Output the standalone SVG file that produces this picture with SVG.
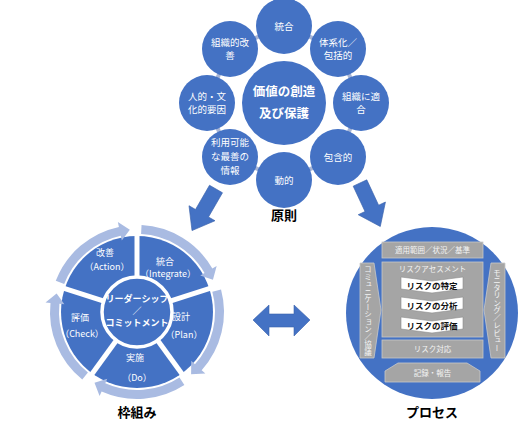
<svg xmlns="http://www.w3.org/2000/svg" xmlns:xlink="http://www.w3.org/1999/xlink" width="520" height="429" viewBox="0 0 520 429">
<style>
text { font-family: "Noto Sans CJK JP", "Noto Sans", sans-serif; }
.c { fill: #4472c4; }
.ct { fill: #ffffff; font-size: 9.5px; text-anchor: middle; }
.cb { fill: #ffffff; font-size: 12.5px; font-weight: bold; text-anchor: middle; }
.lbl { fill: #000000; font-size: 13px; font-weight: bold; text-anchor: middle; }
.seg { fill: #ffffff; font-size: 9px; text-anchor: middle; }
.box { fill: #a5a5a5; stroke: #c9c9c9; stroke-width: 0.8; }
.bt { fill: #f4f4f4; font-size: 7.5px; text-anchor: middle; }
.chev { fill: #ffffff; stroke: #8c8c8c; stroke-width: 0.6; }
.cht { fill: #111111; font-size: 8.5px; font-weight: bold; text-anchor: middle; }
.band { fill: #a9bbe2; }
.spoke { stroke: #ffffff; stroke-width: 5; }
.tick { fill: #a7b5d6; }
.arrow { fill: #4472c4; stroke: #3a63ad; stroke-width: 0.6; }
</style>
<defs>
<path id="arcArrow" d="M 4.55 -86.88 A 87 87 0 0 1 75.34 -43.5 L 79.67 -46 L 75.94 -32.23 L 63.22 -36.5 L 67.55 -39 A 78 78 0 0 0 4.08 -77.89 Z"/>
<line id="spokeLine" x1="0" y1="-34" x2="0" y2="-93"/>
<rect id="tick" x="-2.5" y="-73" width="5" height="4"/>
<polygon id="blockArrow" points="0,-7.5 28,-7.5 28,-15 48,0 28,15 28,7.5 0,7.5"/>
</defs>

<g id="connectors">
  <g class="tick" transform="translate(284,103)">
    <use href="#tick" transform="rotate(22.5)"/>
    <use href="#tick" transform="rotate(67.5)"/>
    <use href="#tick" transform="rotate(112.5)"/>
    <use href="#tick" transform="rotate(157.5)"/>
    <use href="#tick" transform="rotate(202.5)"/>
    <use href="#tick" transform="rotate(247.5)"/>
    <use href="#tick" transform="rotate(292.5)"/>
    <use href="#tick" transform="rotate(337.5)"/>
  </g>
  <use id="arrow-left" class="arrow" href="#blockArrow" transform="translate(216,189) rotate(120)"/>
  <use id="arrow-right" class="arrow" href="#blockArrow" transform="translate(360,183) rotate(65)"/>
  <polygon id="arrow-both" class="arrow" points="253,320 269,305 269,314 294,314 294,305 310,320 294,336 294,327 269,327 269,336"/>
</g>

<!-- Principles cluster -->
<g id="principles">
  <g id="p-center"><circle class="c" cx="284" cy="103" r="42"/>
    <text class="cb" x="284" y="96">価値の創造</text><text class="cb" x="284" y="118">及び保護</text></g>
  <g id="p-integrate"><circle class="c" cx="284" cy="26" r="28"/><text class="ct" x="284" y="30">統合</text></g>
  <g id="p-structured"><circle class="c" cx="338" cy="49" r="28"/><text class="ct" x="338" y="46">体系化／</text><text class="ct" x="338" y="59">包括的</text></g>
  <g id="p-customized"><circle class="c" cx="361" cy="103" r="28"/><text class="ct" x="361" y="100">組織に適</text><text class="ct" x="361" y="113">合</text></g>
  <g id="p-inclusive"><circle class="c" cx="338" cy="157" r="28"/><text class="ct" x="338" y="161">包含的</text></g>
  <g id="p-dynamic"><circle class="c" cx="284" cy="180" r="28"/><text class="ct" x="284" y="184">動的</text></g>
  <g id="p-information"><circle class="c" cx="230" cy="157" r="28"/><text class="ct" x="230" y="146">利用可能</text><text class="ct" x="230" y="160">な最善の</text><text class="ct" x="230" y="174">情報</text></g>
  <g id="p-human"><circle class="c" cx="207" cy="103" r="28"/><text class="ct" x="207" y="100">人的・文</text><text class="ct" x="207" y="113">化的要因</text></g>
  <g id="p-improvement"><circle class="c" cx="230" cy="49" r="28"/><text class="ct" x="230" y="46">組織的改</text><text class="ct" x="230" y="59">善</text></g>
  <text id="label-principles" class="lbl" x="284" y="220">原則</text>
</g>

<!-- Framework cycle -->
<g id="framework">
  <circle class="c" cx="137" cy="312" r="76"/>
  <g class="band" transform="translate(137,312)">
    <use href="#arcArrow"/>
    <use href="#arcArrow" transform="rotate(72)"/>
    <use href="#arcArrow" transform="rotate(144)"/>
    <use href="#arcArrow" transform="rotate(216)"/>
    <use href="#arcArrow" transform="rotate(288)"/>
  </g>
  <g class="spoke" transform="translate(137,312)">
    <use href="#spokeLine"/>
    <use href="#spokeLine" transform="rotate(72)"/>
    <use href="#spokeLine" transform="rotate(144)"/>
    <use href="#spokeLine" transform="rotate(216)"/>
    <use href="#spokeLine" transform="rotate(288)"/>
  </g>
  <g id="f-center"><circle class="c" cx="137" cy="312" r="35" stroke="#ffffff" stroke-width="3.5"/>
    <text class="seg" x="137" y="302" font-weight="bold" font-size="9.5">リーダーシップ</text>
    <text class="seg" x="137" y="313.5" font-weight="bold" font-size="7.5">／</text>
    <text class="seg" x="137" y="326" font-weight="bold" font-size="9.5">コミットメント</text></g>
  <g id="f-integrate"><text class="seg" x="165" y="265">統合</text><text class="seg" x="168" y="277">（Integrate）</text></g>
  <g id="f-design"><text class="seg" x="181" y="320">設計</text><text class="seg" x="184" y="338">（Plan）</text></g>
  <g id="f-implement"><text class="seg" x="135" y="361">実施</text><text class="seg" x="137" y="381">（Do）</text></g>
  <g id="f-evaluate"><text class="seg" x="80" y="321">評価</text><text class="seg" x="82" y="337">（Check）</text></g>
  <g id="f-improve"><text class="seg" x="105" y="256">改善</text><text class="seg" x="107" y="270">（Action）</text></g>
  <text id="label-framework" class="lbl" x="137" y="417">枠組み</text>
</g>

<!-- Process -->
<g id="process">
  <circle class="c" cx="432" cy="313" r="86"/>
  <g id="pr-scope"><rect class="box" x="382" y="242" width="101" height="16"/><text class="bt" x="432.5" y="253">適用範囲／状況／基準</text></g>
  <g id="pr-assessment"><rect class="box" x="382" y="262" width="101" height="75"/><text class="bt" x="432.5" y="272">リスクアセスメント</text></g>
  <g id="pr-identify"><path class="chev" d="M401,277 L432,281 L463,277 L463,289 L432,293 L401,289 Z"/><text class="cht" x="432" y="288.5">リスクの特定</text></g>
  <g id="pr-analyse"><path class="chev" d="M401,297 L432,301 L463,297 L463,309 L432,313 L401,309 Z"/><text class="cht" x="432" y="308.5">リスクの分析</text></g>
  <g id="pr-evaluate"><path class="chev" d="M401,317 L432,321 L463,317 L463,329 L432,333 L401,329 Z"/><text class="cht" x="432" y="328.5">リスクの評価</text></g>
  <g id="pr-treatment"><rect class="box" x="382" y="340" width="101" height="18"/><text class="bt" x="432.5" y="352" font-size="8">リスク対応</text></g>
  <g id="pr-record"><path class="box" d="M385,382 L385,371 L398,363 L467,363 L480,371 L480,382 Z"/><text class="bt" x="432.5" y="376">記録・報告</text></g>
  <g id="pr-communication"><path class="box" d="M360,263 L374,263 L381,310 L374,358 L360,358 Z"/>
    <text class="bt" x="368" y="310.5" writing-mode="vertical-rl" font-size="7.5">コミュニケーション／協議</text></g>
  <g id="pr-monitoring"><path class="box" d="M505,263 L491,263 L484,310 L491,358 L505,358 Z"/>
    <text class="bt" x="497" y="310.5" writing-mode="vertical-rl" font-size="7.5">モニタリング／レビュー</text></g>
  <text id="label-process" class="lbl" x="432" y="417">プロセス</text>
</g>
</svg>
